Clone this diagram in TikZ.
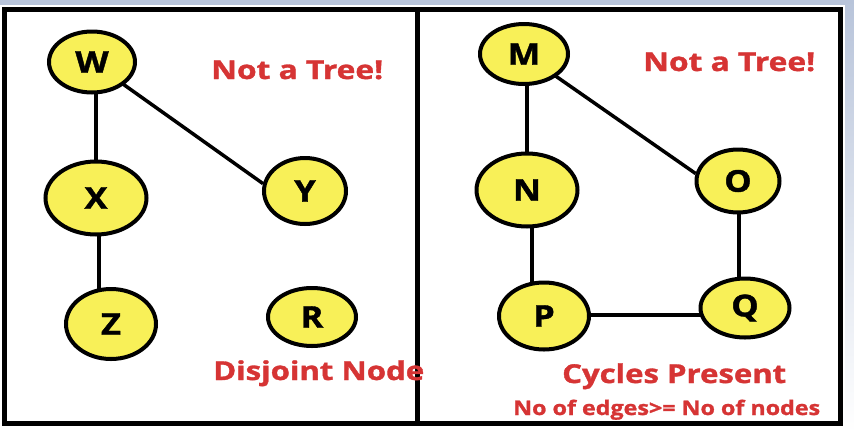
\documentclass[tikz,border=0pt]{standalone}
\usepackage{fontspec}
\setmainfont{Open Sans}[BoldFeatures={FakeBold=1.2}]
\usetikzlibrary{shapes.geometric}
\pgfdeclarelayer{bg}
\pgfsetlayers{bg,main}
\definecolor{nodey}{RGB}{248,240,88}
\definecolor{txtred}{RGB}{214,52,52}
\definecolor{bandblue}{RGB}{184,196,218}
\newcommand{\wletter}[1]{\scalebox{1.15}[1]{#1}}
\begin{document}
\begin{tikzpicture}[x=1pt,y=-1pt,
  vtx/.style={ellipse, draw=black, line width=4pt, fill=nodey, inner sep=0pt,
    font=\bfseries\fontsize{30}{30}\selectfont},
  edge/.style={line width=4pt},
  diag/.style={line width=3.5pt},
  frame/.style={line width=5pt},
  redtxt/.style={text=txtred, inner sep=0pt, anchor=base west,
    font=\bfseries\fontsize{26}{27}\selectfont},
  smalltxt/.style={text=txtred, inner sep=0pt, anchor=base west,
    font=\bfseries\fontsize{20}{21}\selectfont}]
\useasboundingbox (0,0) rectangle (854,432);
% nodes
\node[vtx, minimum width=86pt, minimum height=61pt] (W) at (92,62) {\wletter{W}};
\node[vtx, minimum width=101pt, minimum height=73pt] (X) at (96,198) {\wletter{X}};
\node[vtx, minimum width=82pt, minimum height=66pt] (Y) at (305,191) {\wletter{Y}};
\node[vtx, minimum width=90pt, minimum height=70pt] (Z) at (111,324) {\wletter{Z}};
\node[vtx, minimum width=88pt, minimum height=58pt] (R) at (312,317) {\wletter{R}};
\node[vtx, minimum width=88pt, minimum height=60pt] (M) at (524,54) {\wletter{M}};
\node[vtx, minimum width=101pt, minimum height=73pt] (N) at (527,190) {\wletter{N}};
\node[vtx, minimum width=83pt, minimum height=63pt] (O) at (738,181) {\wletter{O}};
\node[vtx, minimum width=90pt, minimum height=67pt] (P) at (544,316) {\wletter{P}};
\node[vtx, minimum width=89pt, minimum height=59pt] (Q) at (745,308) {\wletter{Q}};
% background, frames and edges
\begin{pgfonlayer}{bg}
\fill[white] (0,0) rectangle (854,432);
\fill[bandblue] (0,0) rectangle (854,5);
\shade[top color=bandblue, bottom color=white] (845,0) rectangle (854,432);
\draw[frame] (4.5,9) rectangle (840.5,423.5);
\draw[frame] (417.5,9) -- (417.5,423.5);
\draw[edge] (X.center |- W.center) -- (X.center);
\draw[edge] ([xshift=3pt]X.center) -- ([xshift=3pt]X.center |- Z.center);
\draw[diag] (W.center) -- (Y.170);
\draw[edge] (N.center |- M.center) -- (N.center);
\draw[edge] ([xshift=5pt]N.center) -- ([xshift=5pt]N.center |- P.center);
\draw[diag] (M.center) -- (O.170);
\draw[edge] ([xshift=1pt]O.center) -- ([xshift=1pt]O.center |- Q.center);
\draw[diag] ([yshift=1pt]P.center) -- ([yshift=1pt]P.center -| Q.center);
\end{pgfonlayer}
% texts
\node[redtxt] (t1) at (211,79) {\resizebox{172pt}{\height}{Not a Tree!}};
\node[redtxt] (t2) at (213,380) {\resizebox{211pt}{\height}{Disjoint Node}};
\node[redtxt] (t3) at (643,71) {\resizebox{172pt}{\height}{Not a Tree!}};
\node[redtxt] (t4) at (562,383) {\resizebox{224pt}{\height}{Cycles Present}};
\node[smalltxt] (t5) at (513,415) {\resizebox{307pt}{\height}{No of edges>= No of nodes}};
\end{tikzpicture}
\end{document}
